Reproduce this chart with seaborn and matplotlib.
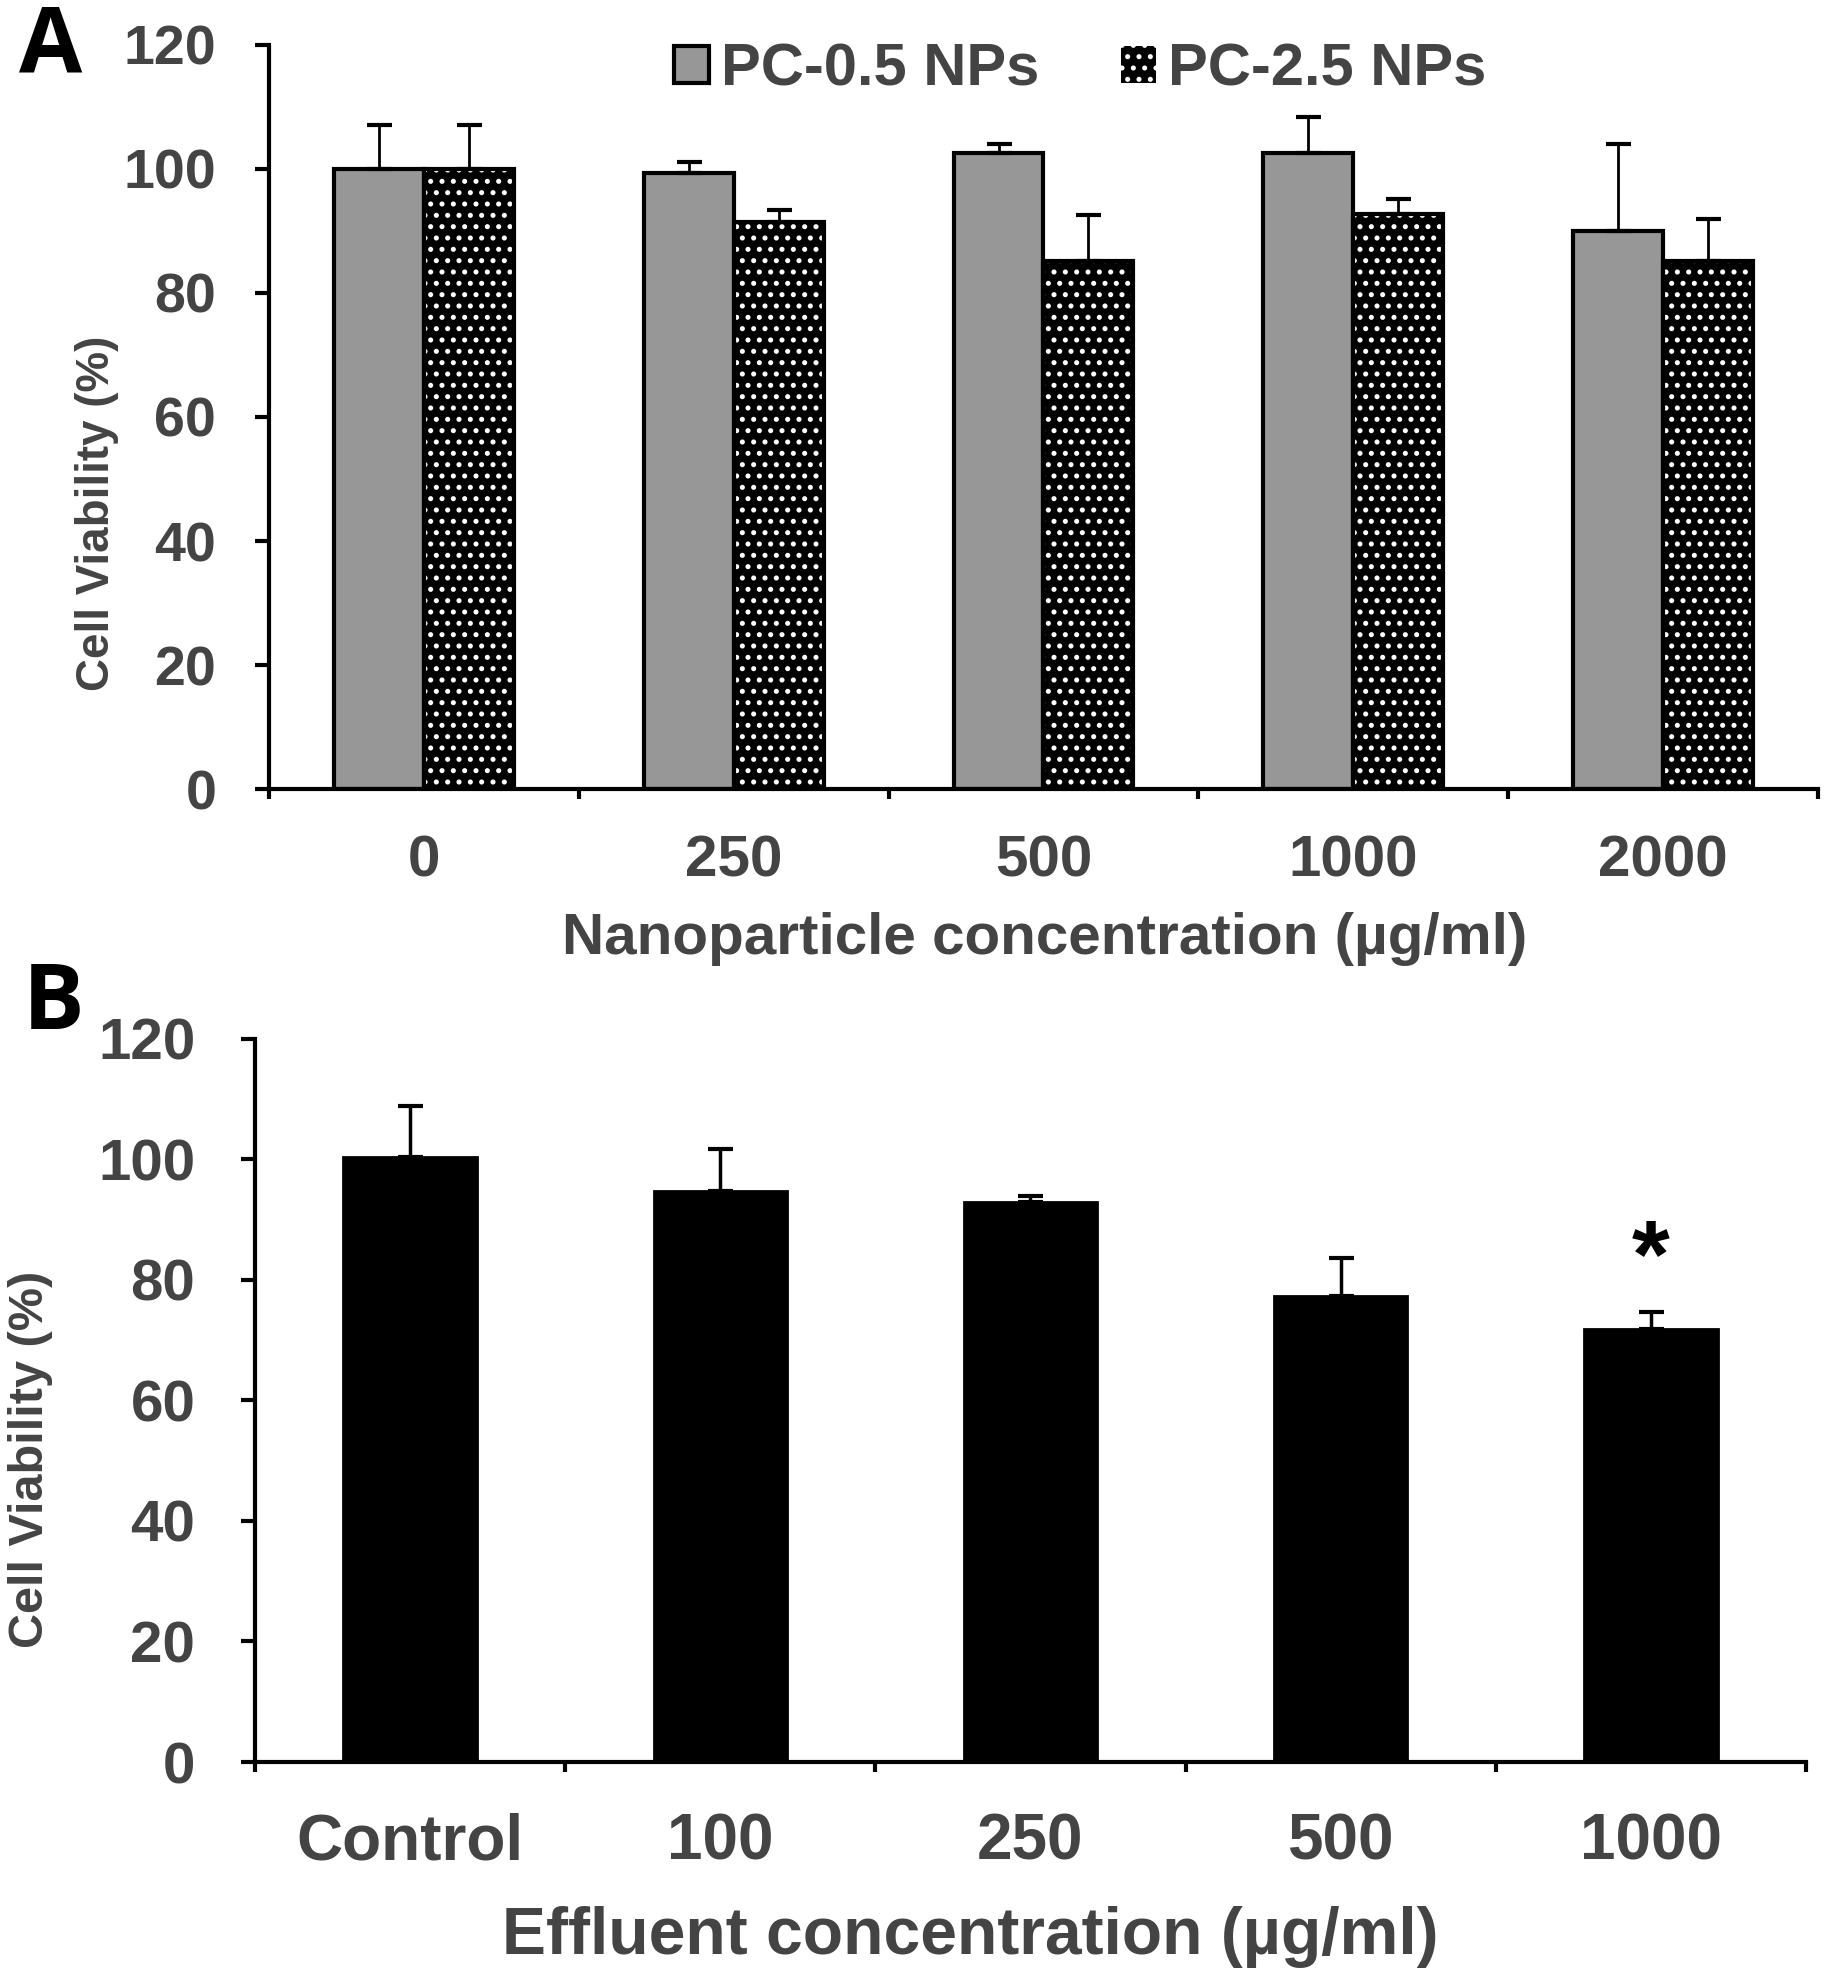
import numpy as np
import pandas as pd
import matplotlib
matplotlib.use("Agg")
import matplotlib.pyplot as plt
import matplotlib.patches as mpatches
from matplotlib.ticker import FixedLocator
import seaborn as sns

# panel A: nanoparticles
conc_a = ["0", "250", "500", "1000", "2000"]
series_a = ["PC-0.5 NPs", "PC-2.5 NPs"]
pc05_mean = [100.0, 99.3, 102.5, 102.5, 90.0]
pc05_err = [7.1, 1.8, 1.6, 5.9, 14.1]
pc25_mean = [100.0, 91.5, 85.2, 92.7, 85.1]
pc25_err = [7.1, 1.9, 7.3, 2.5, 6.9]

# panel B: effluent
conc_b = ["Control", "100", "250", "500", "1000"]
eff_mean = [100.4, 94.8, 92.9, 77.4, 71.8]
eff_err = [8.4, 7.0, 1.1, 6.2, 2.9]
signif_b = ["", "", "", "", "*"]

yticks = [0, 20, 40, 60, 80, 100, 120]

# dpi chosen so that the ".." hatch gives ~11 px dot spacing;
# all sizes below are given as if dpi were 100 and scaled by pt()
DPI = 136


def pt(v):
    return v * 100 / DPI


sns.set_style("ticks")
plt.rcParams["font.family"] = ["Liberation Sans", "DejaVu Sans"]
plt.rcParams["font.weight"] = "bold"
plt.rcParams["axes.labelweight"] = "bold"
plt.rcParams["hatch.linewidth"] = pt(2.0)

TXT = "#444444"
GRAY = "#979797"
DOTS = ".."

fig = plt.figure(figsize=(1831 / DPI, 1980 / DPI), dpi=DPI)
ax_a = fig.add_axes([0.1469, 0.6015, 0.846, 0.3758])
ax_b = fig.add_axes([0.1393, 0.1101, 0.847, 0.3652])


def style_axes(ax, cats, xsize, ysize, xpad, ypad):
    sns.despine(ax=ax)
    ax.set_xlim(-0.5, len(cats) - 0.5)
    ax.set_ylim(0, 120)
    ax.set_yticks(yticks)
    for s in ["left", "bottom"]:
        ax.spines[s].set_linewidth(pt(3))
        ax.spines[s].set_color("black")
    ax.set_xticks(range(len(cats)))
    ax.set_xticklabels(cats)
    ax.xaxis.set_minor_locator(FixedLocator(np.arange(-0.5, len(cats), 1)))
    ax.tick_params(axis="x", which="major", length=0, pad=pt(xpad),
                   labelsize=pt(xsize), labelcolor=TXT)
    ax.tick_params(axis="x", which="minor", length=pt(7), width=pt(3),
                   direction="out", color="black")
    ax.tick_params(axis="y", length=pt(10), width=pt(3), pad=pt(ypad),
                   labelsize=pt(ysize), labelcolor=TXT, color="black")


# ---- panel A
df_a = pd.DataFrame({
    "conc": conc_a * 2,
    "series": [series_a[0]] * len(conc_a) + [series_a[1]] * len(conc_a),
    "value": pc05_mean + pc25_mean,
})
err_a = pc05_err + pc25_err

sns.barplot(data=df_a, x="conc", y="value", hue="series", order=conc_a,
            hue_order=series_a, palette=[GRAY, "black"], width=0.58,
            errorbar=None, legend=False, edgecolor="black", linewidth=pt(3),
            saturation=1, ax=ax_a)
bars_a = list(ax_a.patches)
for p in bars_a[len(conc_a):]:
    # dotted bars: white dots on black, black outline drawn on top
    p.set_facecolor("black")
    p.set_edgecolor("white")
    p.set_linewidth(0)
    p.set_hatch(DOTS)
    ax_a.add_patch(mpatches.Rectangle((p.get_x(), 0), p.get_width(), p.get_height(),
                                      fill=False, edgecolor="black", linewidth=pt(3),
                                      zorder=3))

xs = [p.get_x() + p.get_width() / 2 for p in bars_a]
ys = [p.get_height() for p in bars_a]
ax_a.errorbar(xs, ys, yerr=[np.zeros(len(err_a)), err_a], fmt="none", ecolor="black",
              elinewidth=pt(2), capsize=pt(9), capthick=pt(3), zorder=2)

style_axes(ax_a, conc_a, 42, 40, 33, 28)
ax_a.set_xlabel("Nanoparticle concentration (µg/ml)", fontsize=pt(42), color=TXT)
ax_a.xaxis.set_label_coords(0.501, -0.202)
ax_a.xaxis.label.set_va("center")
ax_a.set_ylabel("Cell Viability (%)", fontsize=pt(33), color=TXT)
ax_a.yaxis.set_label_coords(-0.111, 0.371)
ax_a.yaxis.label.set_va("center")

handles = [
    mpatches.Patch(facecolor=GRAY, edgecolor="black", linewidth=pt(3), label=series_a[0]),
    mpatches.Patch(facecolor="black", edgecolor="white", linewidth=0, hatch=DOTS,
                   label=series_a[1]),
]
leg = ax_a.legend(handles=handles, loc="center", bbox_to_anchor=(0.5236, 0.966), ncol=2,
                  frameon=False, fontsize=pt(43), handlelength=0.59, handleheight=0.59,
                  handletextpad=0.2, columnspacing=1.36, borderaxespad=0)
for t in leg.get_texts():
    t.set_color(TXT)

# ---- panel B
df_b = pd.DataFrame({"conc": conc_b, "value": eff_mean})
sns.barplot(data=df_b, x="conc", y="value", order=conc_b, color="black", width=0.43,
            errorbar=None, edgecolor="black", linewidth=pt(2), saturation=1, ax=ax_b)
bars_b = list(ax_b.patches)
xs = [p.get_x() + p.get_width() / 2 for p in bars_b]
ys = [p.get_height() for p in bars_b]
ax_b.errorbar(xs, ys, yerr=[np.zeros(len(eff_err)), eff_err], fmt="none", ecolor="black",
              elinewidth=pt(2.5), capsize=pt(9), capthick=pt(3), zorder=2)
for x, y, e, mark in zip(xs, ys, eff_err, signif_b):
    if mark:
        ax_b.text(x, y + e + 4.2, mark, ha="center", va="baseline", fontsize=pt(70),
                  color="black")

style_axes(ax_b, conc_b, 46, 42, 36, 33)
ax_b.set_xlabel("Effluent concentration (µg/ml)", fontsize=pt(47.5), color=TXT)
ax_b.xaxis.set_label_coords(0.461, -0.242)
ax_b.xaxis.label.set_va("center")
ax_b.set_ylabel("Cell Viability (%)", fontsize=pt(35), color=TXT)
ax_b.yaxis.set_label_coords(-0.145, 0.419)
ax_b.yaxis.label.set_va("center")

# panel letters
fig.text(51 / 1831, 1 - 49 / 1980, "A", ha="center", va="center", fontsize=pt(66),
         fontweight="bold", color="black", family=["Open Sans", "DejaVu Sans"])
fig.text(54 / 1831, 1 - 1005 / 1980, "B", ha="center", va="center", fontsize=pt(66),
         fontweight="bold", color="black", family=["Open Sans", "DejaVu Sans"])

fig.savefig("out.png", dpi=DPI)
